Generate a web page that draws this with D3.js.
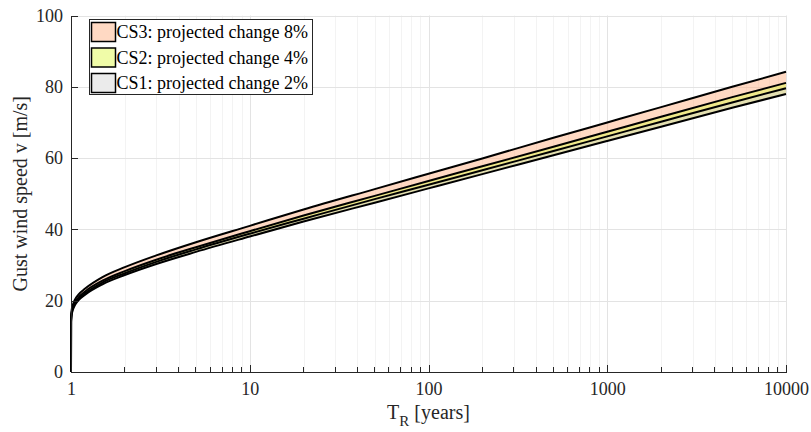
<!DOCTYPE html>
<meta charset="utf-8">
<style>
  body { margin: 0; background: #fff; }
  svg { font-family: "Liberation Serif", "Times New Roman", serif; }
  .grid-major line { stroke: #e3e3e3; }
  .grid-minor line { stroke: #f3f3f3; }
  .axis path, .axis line { stroke: #262626; shape-rendering: crispEdges; }
  .axis text { fill: #262626; font-size: 18px; font-family: "Liberation Serif", serif; }
  .curve { fill: none; stroke: #000; stroke-width: 2; }
</style>
<body>
<script src="https://cdn.jsdelivr.net/npm/d3@7"></script>
<script>
// return period T_R [years]
var periods = [1, 1.001, 1.01, 1.05, 1.1, 1.2, 1.5, 2, 3, 5, 10, 20, 50, 100, 200, 500, 1000, 2000, 5000, 10000];
// gust wind speed [m/s]
var baseline = [0, 14.0, 16.3, 18.7, 20.1, 21.7, 24.6, 27.2, 30.3, 33.7, 38.0, 42.2, 47.5, 51.5, 55.5, 60.8, 64.8, 68.8, 74.1, 78.0];
var cs1 = [0, 14.3, 16.6, 19.1, 20.5, 22.1, 25.1, 27.7, 30.9, 34.4, 38.8, 43.0, 48.5, 52.5, 56.6, 62.0, 66.1, 70.2, 75.6, 79.6];
var cs2 = [0, 14.6, 17.0, 19.4, 20.9, 22.6, 25.6, 28.3, 31.5, 35.0, 39.5, 43.9, 49.4, 53.6, 57.7, 63.2, 67.4, 71.6, 77.1, 81.1];
var cs3 = [0, 15.1, 17.6, 20.2, 21.7, 23.4, 26.6, 29.4, 32.7, 36.4, 41.0, 45.6, 51.3, 55.6, 59.9, 65.7, 70.0, 74.3, 80.0, 84.2];

var legendLabels = ["CS3: projected change 8%", "CS2: projected change 4%", "CS1: projected change 2%"];
var yTicks = [0, 20, 40, 60, 80, 100];
var xTicks = [1, 10, 100, 1000, 10000];

var width = 811, height = 432;
var plotLeft = 71, plotRight = 786, plotTop = 15.5, plotBottom = 372;

var svg = d3.select("body").append("svg")
  .attr("width", width)
  .attr("height", height);

var x = d3.scaleLog().domain([1, 10000]).range([plotLeft, plotRight]);
var y = d3.scaleLinear().domain([0, 100]).range([plotBottom, plotTop]);

// minor decade ticks 2..9
var minor = [];
for (var d = 1; d < 10000; d *= 10)
  for (var k = 2; k < 10; k++) minor.push(d * k);

// grid
svg.append("g").attr("class", "grid-minor")
  .selectAll("line").data(minor).enter().append("line")
  .attr("x1", function (v) { return Math.round(x(v)) + 0.5; })
  .attr("x2", function (v) { return Math.round(x(v)) + 0.5; })
  .attr("y1", plotTop).attr("y2", plotBottom);

svg.append("g").attr("class", "grid-major")
  .selectAll("line").data(xTicks.slice(1)).enter().append("line")
  .attr("x1", function (v) { return Math.round(x(v)) + 0.5; })
  .attr("x2", function (v) { return Math.round(x(v)) + 0.5; })
  .attr("y1", plotTop).attr("y2", plotBottom);

svg.append("g").attr("class", "grid-major")
  .selectAll("line").data(yTicks.slice(1)).enter().append("line")
  .attr("x1", plotLeft).attr("x2", plotRight)
  .attr("y1", function (v) { return Math.round(y(v)) + 0.5; })
  .attr("y2", function (v) { return Math.round(y(v)) + 0.5; });

// bands, stacked with transparency like the original
var bands = [
  { upper: cs3, color: "#ffb387" },
  { upper: cs2, color: "#e1f951" },
  { upper: cs1, color: "#d7d7d7" }
];

var area = d3.area()
  .x(function (d) { return x(d.t); })
  .y0(function (d) { return y(d.lo); })
  .y1(function (d) { return y(d.hi); })
  .curve(d3.curveMonotoneX);

bands.forEach(function (b) {
  var rows = periods.map(function (t, i) { return { t: t, lo: baseline[i], hi: b.upper[i] }; });
  svg.append("path")
    .datum(rows)
    .attr("d", area)
    .attr("fill", b.color)
    .attr("fill-opacity", 0.5);
});

var line = d3.line()
  .x(function (d) { return x(d.t); })
  .y(function (d) { return y(d.v); })
  .curve(d3.curveMonotoneX);

[baseline, cs1, cs2, cs3].forEach(function (s) {
  svg.append("path")
    .datum(periods.map(function (t, i) { return { t: t, v: s[i] }; }))
    .attr("class", "curve")
    .attr("d", line);
});

// axes (ticks pointing inward)
var xAxis = d3.axisBottom(x)
  .tickValues(xTicks)
  .tickFormat(d3.format("d"))
  .tickSizeInner(-7).tickSizeOuter(0).tickPadding(10);

var gx = svg.append("g").attr("class", "axis")
  .attr("transform", "translate(0," + plotBottom + ")")
  .call(xAxis);

gx.selectAll(".minor").data(minor).enter().append("line")
  .attr("class", "minor")
  .attr("x1", function (v) { return x(v); })
  .attr("x2", function (v) { return x(v); })
  .attr("y1", 0).attr("y2", -5);

var yAxis = d3.axisLeft(y)
  .tickValues(yTicks)
  .tickSizeInner(-7).tickSizeOuter(0).tickPadding(8);

svg.append("g").attr("class", "axis")
  .attr("transform", "translate(" + plotLeft + ",0)")
  .call(yAxis);

// axis titles
var xt = svg.append("text")
  .attr("x", (plotLeft + plotRight) / 2)
  .attr("y", 419)
  .attr("text-anchor", "middle")
  .attr("fill", "#262626")
  .style("font-size", "20px");
xt.append("tspan").text("T");
xt.append("tspan").attr("dy", 7).style("font-size", "15px").text("R");
xt.append("tspan").attr("dy", -7).text(" [years]");

svg.append("text")
  .attr("transform", "translate(27," + (plotTop + plotBottom) / 2 + ") rotate(-90)")
  .attr("text-anchor", "middle")
  .attr("fill", "#262626")
  .style("font-size", "20px")
  .text("Gust wind speed v [m/s]");

// legend
var legendColors = ["#ffd9c3", "#f0fca8", "#ebebeb"];
var lg = svg.append("g").attr("transform", "translate(89.5,19.5)");
lg.append("rect")
  .attr("width", 223).attr("height", 75)
  .attr("fill", "#fff").attr("stroke", "#262626").attr("stroke-width", 1);

var item = lg.selectAll(".item").data(legendLabels).enter().append("g")
  .attr("transform", function (d, i) { return "translate(0," + (i * 25.5) + ")"; });

item.append("rect")
  .attr("x", 2).attr("y", 3)
  .attr("width", 24).attr("height", 19)
  .attr("fill", function (d, i) { return legendColors[i]; })
  .attr("stroke", "#000").attr("stroke-width", 1.5);

item.append("text")
  .attr("x", 27).attr("y", 18.5)
  .attr("fill", "#000")
  .style("font-size", "18px")
  .text(function (d) { return d; });
</script>
</body>
